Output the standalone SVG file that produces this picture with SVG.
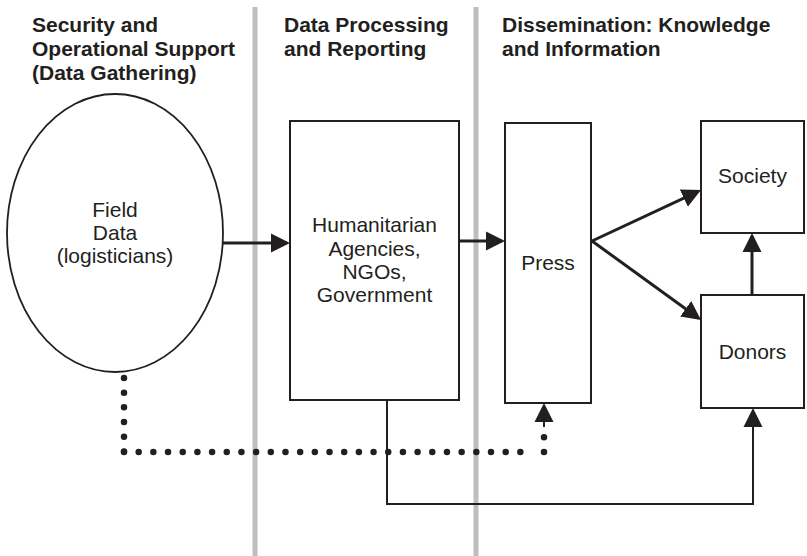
<svg xmlns="http://www.w3.org/2000/svg" width="807" height="556" viewBox="0 0 807 556">
  <style>
    .hdr { font-family: "Liberation Sans", Arial, sans-serif; font-weight: bold; font-size: 21px; fill: #231f20; }
    .lbl { font-family: "Liberation Sans", Arial, sans-serif; font-size: 21px; fill: #231f20; text-anchor: middle; }
    .sep { stroke: #bcbec0; stroke-width: 5; fill: none; }
    .box { fill: #ffffff; stroke: #231f20; stroke-width: 2; }
    .thick { fill: none; stroke: #231f20; stroke-width: 3; marker-end: url(#arrow); }
    .thin { fill: none; stroke: #231f20; stroke-width: 2; }
    .dotted { fill: none; stroke: #231f20; stroke-width: 6.5; stroke-linecap: round; stroke-dasharray: 0 14.68; }
  </style>
  <defs>
    <marker id="arrow" markerUnits="userSpaceOnUse" viewBox="0 0 19 20" markerWidth="19" markerHeight="20" refX="16" refY="10" orient="auto">
      <path d="M0,0.5 L19,10 L0,19.5 z" fill="#231f20"/>
    </marker>
  </defs>
  <rect width="807" height="556" fill="#ffffff"/>

  <g id="separators">
    <line class="sep" x1="255" y1="7" x2="255" y2="556"/>
    <line class="sep" x1="476" y1="7" x2="476" y2="556"/>
  </g>

  <g id="headers">
    <text class="hdr" x="32" y="32">Security and</text>
    <text class="hdr" x="32" y="55.5">Operational Support</text>
    <text class="hdr" x="32" y="79.5">(Data Gathering)</text>
    <text class="hdr" x="284" y="32">Data Processing</text>
    <text class="hdr" x="284" y="55.5">and Reporting</text>
    <text class="hdr" x="502" y="32">Dissemination: Knowledge</text>
    <text class="hdr" x="502" y="55.5">and Information</text>
  </g>

  <g id="connectors">
    <path class="dotted" d="M124,378 V452"/>
    <path class="dotted" d="M124,452 H535"/>
    <path class="dotted" d="M544,452 V437"/>
    <path class="thin" d="M544,427 V406" marker-end="url(#arrow)"/>
    <path class="thin" d="M387,400 V504 H753 V411" marker-end="url(#arrow)"/>
    <path class="thick" d="M223,243 H287"/>
    <path class="thick" d="M459,241 H502"/>
    <path class="thick" d="M592,241 L698.3,191.3"/>
    <path class="thick" d="M592,241 L698.6,318.2"/>
    <path class="thick" d="M752,295 V236"/>
  </g>

  <g id="field-data">
    <ellipse cx="115" cy="233" rx="108" ry="139" fill="#ffffff" stroke="#231f20" stroke-width="1.8"/>
    <text class="lbl" x="115" y="217">Field</text>
    <text class="lbl" x="115" y="240">Data</text>
    <text class="lbl" x="115" y="263">(logisticians)</text>
  </g>

  <g id="agencies">
    <rect class="box" x="290" y="121" width="169" height="279"/>
    <text class="lbl" x="374.5" y="232">Humanitarian</text>
    <text class="lbl" x="374.5" y="255.5">Agencies,</text>
    <text class="lbl" x="374.5" y="278.5">NGOs,</text>
    <text class="lbl" x="374.5" y="302">Government</text>
  </g>

  <g id="press">
    <rect class="box" x="505" y="123" width="86" height="280"/>
    <text class="lbl" x="548" y="270">Press</text>
  </g>

  <g id="society">
    <rect class="box" x="701" y="121" width="103" height="112"/>
    <text class="lbl" x="752.5" y="183">Society</text>
  </g>

  <g id="donors">
    <rect class="box" x="701" y="295" width="103" height="113"/>
    <text class="lbl" x="752.5" y="359">Donors</text>
  </g>
</svg>
